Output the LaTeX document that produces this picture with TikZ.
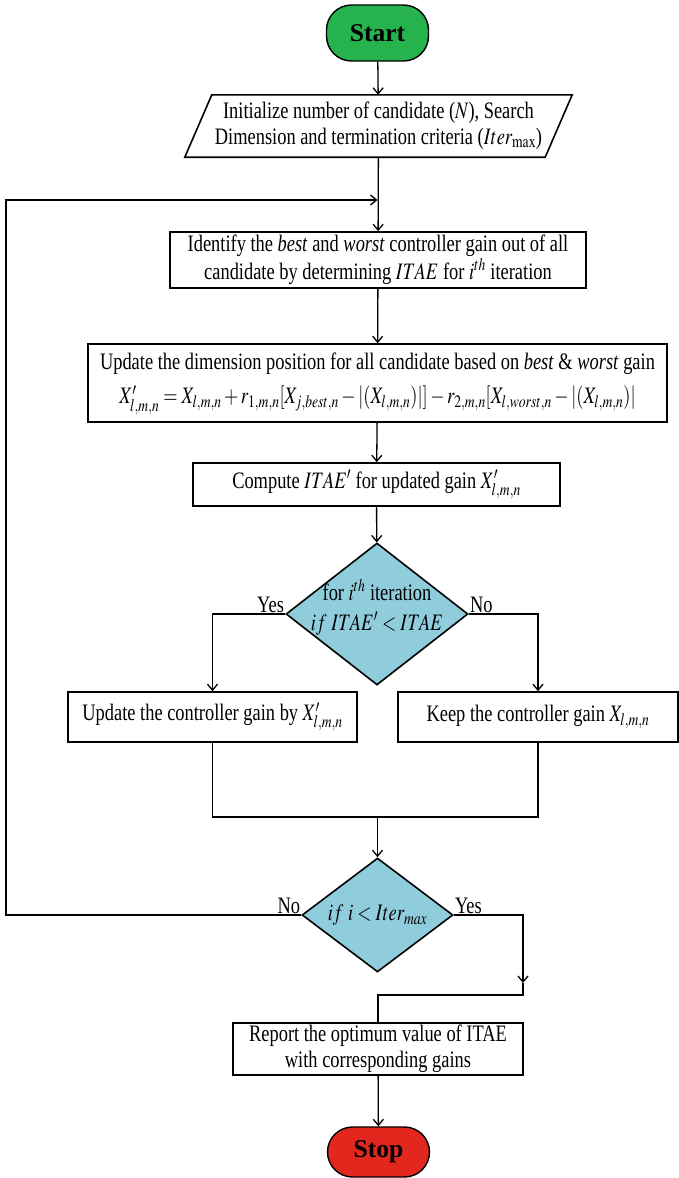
\documentclass[tikz,border=0pt]{standalone}
\usepackage{mathptmx}
\usepackage{fontspec}
\setmainfont{Liberation Serif}
\usetikzlibrary{shapes.geometric,arrows.meta}

\definecolor{startgreen}{RGB}{38,178,76}
\definecolor{stopred}{RGB}{226,40,30}
\definecolor{diamblue}{RGB}{143,204,220}

% body text in the boxes is set narrow
\newcommand{\condtxt}[1]{\scalebox{0.78}[1]{#1}}
\newcommand{\twolines}[3][0pt]{\condtxt{\begin{tabular}{@{}c@{}}#2\\[#1]#3\end{tabular}}}

\begin{document}
\begin{tikzpicture}[x=1pt,y=-1pt,
  txt/.style={font=\fontsize{23.6}{26}\selectfont},
  proc/.style={draw,line width=1.6pt,inner sep=0pt,txt},
  term/.style={draw,line width=1.4pt,rounded corners=25pt,inner sep=0pt,
    minimum width=102pt,font=\fontsize{25.6}{28}\selectfont\bfseries},
  decide/.style={diamond,draw,line width=1.6pt,fill=diamblue,inner sep=0pt},
  link/.style={line width=1.3pt},
  arr/.style={link,-{Straight Barb[length=6pt,width=10pt]}}]
\useasboundingbox (0,0) rectangle (679,1178);

\node[term,fill=startgreen,minimum height=56pt] (start) at (377.5,33) {Start};
\node[txt,minimum width=360pt,minimum height=62pt,inner sep=0pt] (init) at (378.5,126)
  {\twolines{Initialize number of candidate ($N$), Search}{Dimension and termination criteria ($Iter_{\max}$)}};
\draw[line width=1.6pt] ([xshift=13.5pt]init.north west) -- ([xshift=13.5pt]init.north east)
  -- ([xshift=-13.5pt]init.south east) -- ([xshift=-13.5pt]init.south west) -- cycle;

\node[proc,minimum width=416pt,minimum height=56pt] (ident) at (378,260)
  {\twolines{Identify the \textit{best} and \textit{worst} controller gain out of all}{candidate by determining $ITAE$ for $i^{th}$ iteration}};
\node[proc,minimum width=579pt,minimum height=78pt] (upd) at (377.5,383)
  {\twolines[8pt]{Update the dimension position for all candidate based on \textit{best} \& \textit{worst} gain}
  {$X'_{l,m,n} = X_{l,m,n} + r_{1,m,n}[X_{j,best,n} - |(X_{l,m,n})|] - r_{2,m,n}[X_{l,worst,n} - |(X_{l,m,n})|$}};
\node[proc,minimum width=367pt,minimum height=43pt] (comp) at (376.5,484.5)
  {\condtxt{Compute $ITAE'$ for updated gain $X'_{l,m,n}$}};

\node[decide,minimum width=182pt,minimum height=142pt,
  label={[txt,yshift=5pt]center:\twolines[4pt]{for $i^{th}$ iteration}{$if~ITAE' < ITAE$}}] (dec1) at (377,614) {};
\node[proc,minimum width=289pt,minimum height=50pt] (yesb) at (212.5,717)
  {\condtxt{Update the controller gain by $X'_{l,m,n}$}};
\node[proc,minimum width=280pt,minimum height=50pt] (nob) at (538,717)
  {\condtxt{Keep the controller gain $X_{l,m,n}$}};

\node[decide,minimum width=151pt,minimum height=114pt,
  label={[txt]center:\condtxt{$if~i < Iter_{max}$}}] (dec2) at (377.5,915) {};
\node[proc,minimum width=290pt,minimum height=52pt] (report) at (378,1049)
  {\twolines{Report the optimum value of ITAE}{with corresponding gains}};
\node[term,fill=stopred,minimum height=50pt] (stop) at (378.5,1152) {Stop};

% yes / no marks
\node[txt,inner sep=1pt,anchor=south east] (yes1) at (dec1.west) {\condtxt{Yes}};
\node[txt,inner sep=1pt,anchor=south west] (no1) at (dec1.east) {\condtxt{No}};
\node[txt,inner sep=1pt,anchor=south east] (no2) at (dec2.west) {\condtxt{No}};
\node[txt,inner sep=1pt,anchor=south west] (yes2) at (dec2.east) {\condtxt{Yes}};

\coordinate (back) at (6,200);
\coordinate (loopin) at (377.5,200);
\coordinate (mrg) at (377.5,817);
\coordinate (yturn) at (523,983);
\coordinate (yjoin) at (523,995);

\draw[arr] (start) -- (init);
\draw[arr] (init) -- (ident);
\draw[arr] (ident) -- (upd);
\draw[arr] (upd) -- (comp);
\draw[arr] (comp) -- (dec1);
\draw[arr] (dec1.west) -| (yesb.north);
\draw[arr] (dec1.east) -| (nob.north);
\draw[link] (yesb.south) |- (mrg) -| (nob.south);
\draw[arr] (mrg) -- (dec2.north);
\draw[arr] (dec2.west) -| (back) -- (loopin);
\draw[arr] (dec2.east) -| (yturn);
\draw[link] (yturn) -- (yjoin) -| (report.north);
\draw[arr] (report) -- (stop);
\end{tikzpicture}
\end{document}
